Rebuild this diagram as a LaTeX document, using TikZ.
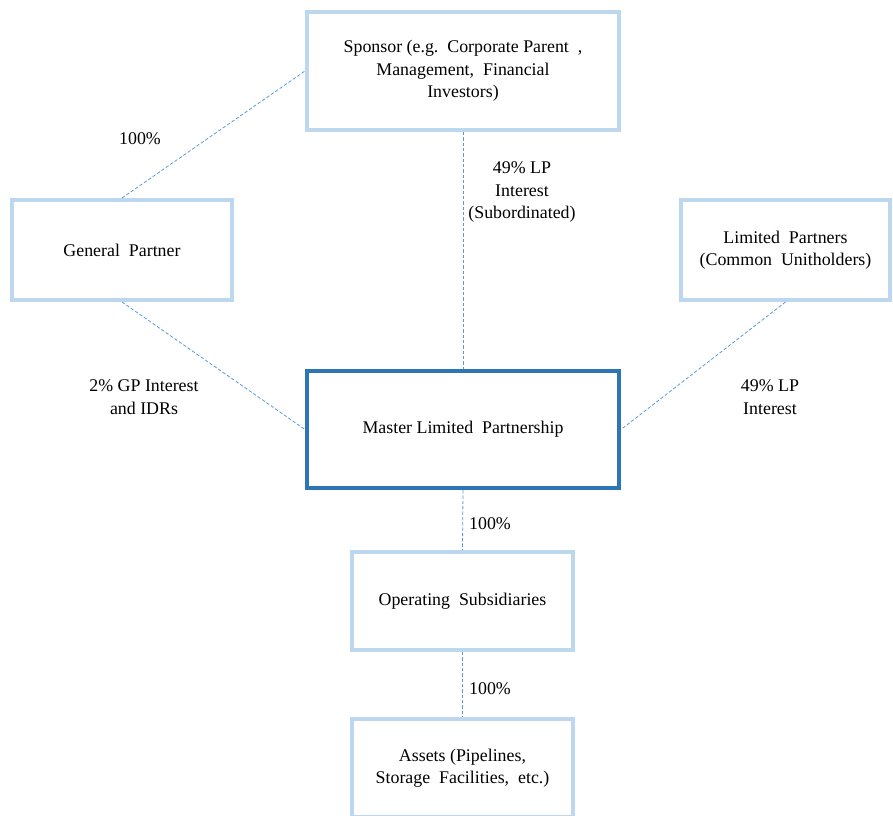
\documentclass[tikz,border=0pt]{standalone}
\usepackage{fontspec}
\setmainfont{Liberation Serif}
\usepackage{tikz}

\definecolor{lightframe}{RGB}{189,215,238}
\definecolor{darkframe}{RGB}{46,117,182}
\definecolor{linkblue}{RGB}{91,155,213}

\begin{document}
\begin{tikzpicture}[x=0.75pt,y=-0.75pt,
    txt/.style={font=\rmfamily\fontsize{13.4}{16.9}\selectfont,align=center},
    entity/.style={txt,draw=lightframe,line width=3pt,fill=white,inner sep=0pt},
    holding/.style={draw=linkblue,line width=0.6pt,dash pattern=on 2.5pt off 1.5pt}
  ]
    \useasboundingbox (0,0) rectangle (893,816);

    \node[entity,minimum width=234pt,minimum height=88.5pt] (sponsor) at (463,71)
      {Sponsor (e.g.\ \ Corporate Parent\ \ ,\\ Management,\ \ Financial\\ Investors)};
    \node[entity,minimum width=165pt,minimum height=75pt] (gp) at (122,250)
      {General\ \ Partner};
    \node[entity,minimum width=157pt,minimum height=75pt] (lp) at (785.5,250)
      {Limited\ \ Partners\\ (Common\ \ Unitholders)};
    \node[entity,draw=darkframe,minimum width=234pt,minimum height=88pt] (mlp) at (463,429.5)
      {Master Limited\ \ Partnership};
    \node[entity,minimum width=166pt,minimum height=73.5pt] (opsub) at (462.5,601)
      {Operating\ \ Subsidiaries};
    \node[entity,minimum width=166pt,minimum height=73.5pt] (assets) at (462.5,768)
      {Assets (Pipelines,\\ Storage\ \ Facilities,\ \ etc.)};

    \path (sponsor.south) edge[holding] (mlp.north)
          (gp.north)      edge[holding] (sponsor.west)
          (gp.south)      edge[holding] (mlp.west)
          (lp.south)      edge[holding] (mlp.east)
          (mlp.south)     edge[holding] (opsub.north)
          (opsub.south)   edge[holding] (assets.north);

    \node[txt] (gpshare)  at (140,139) {100\%};
    \node[txt] (lpsub)    at (522,192) {49\% LP\\ Interest\\ (Subordinated)};
    \node[txt] (gpidr)    at (144,397) {2\% GP Interest\\ and IDRs};
    \node[txt] (lpcommon) at (770,397) {49\% LP\\ Interest};
    \node[txt] (subshare) at (490,524) {100\%};
    \node[txt] (assshare) at (490,689) {100\%};
\end{tikzpicture}
\end{document}
